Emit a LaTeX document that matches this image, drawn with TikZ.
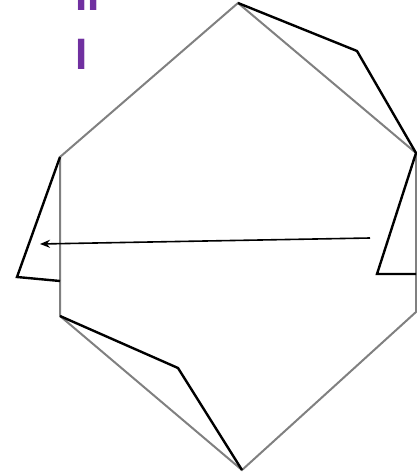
\documentclass[tikz,border=0pt]{standalone}
\usepackage{fontspec}
\setmainfont{Liberation Sans}
\usetikzlibrary{arrows.meta}
\definecolor{purp}{HTML}{7030A0}
\definecolor{hexgray}{HTML}{808080}
\tikzset{
  hexline/.style={draw=hexgray, line width=2pt, line join=miter},
  polyline/.style={draw=black, line width=2.4pt, line join=miter},
  arrowline/.style={draw=black, line width=1.6pt, -{Stealth[length=10pt,width=8pt]}},
  purptext/.style={text=purp, font=\bfseries\fontsize{44}{44}\selectfont, inner sep=0pt, anchor=base west}
}
\begin{document}
\begin{tikzpicture}[x=1pt,y=-1pt]
\useasboundingbox (0,0) rectangle (417,476);
% hexagon vertices
\coordinate (T) at (238,3);
\coordinate (UR) at (416,153);
\coordinate (LR) at (416,312);
\coordinate (B) at (242,470);
\coordinate (LL) at (60,316);
\coordinate (UL) at (60,157);
% bumps
\coordinate (P1) at (357,51);
\coordinate (P2) at (377,274);
\coordinate (P3) at (416,274);
\coordinate (P4) at (178,368);
\coordinate (P5) at (17,277);
\coordinate (P6) at (60,281);
\draw[hexline] (T) -- (UR) -- (LR) -- (B) -- (LL) -- (UL) -- cycle;
\draw[polyline] (T) -- (P1) -- (UR) -- (P2) -- (P3);
\draw[polyline] (LL) -- (P4) -- (B);
\draw[polyline] (UL) -- (P5) -- (P6);
\coordinate (A1) at (370,238);
\coordinate (A2) at (40,244);
\draw[arrowline] (A1) -- (A2);
\node[purptext] (t1) at (75.5,11) {II};
\node[purptext] (t2) at (75.5,70) {I};
\end{tikzpicture}
\end{document}
